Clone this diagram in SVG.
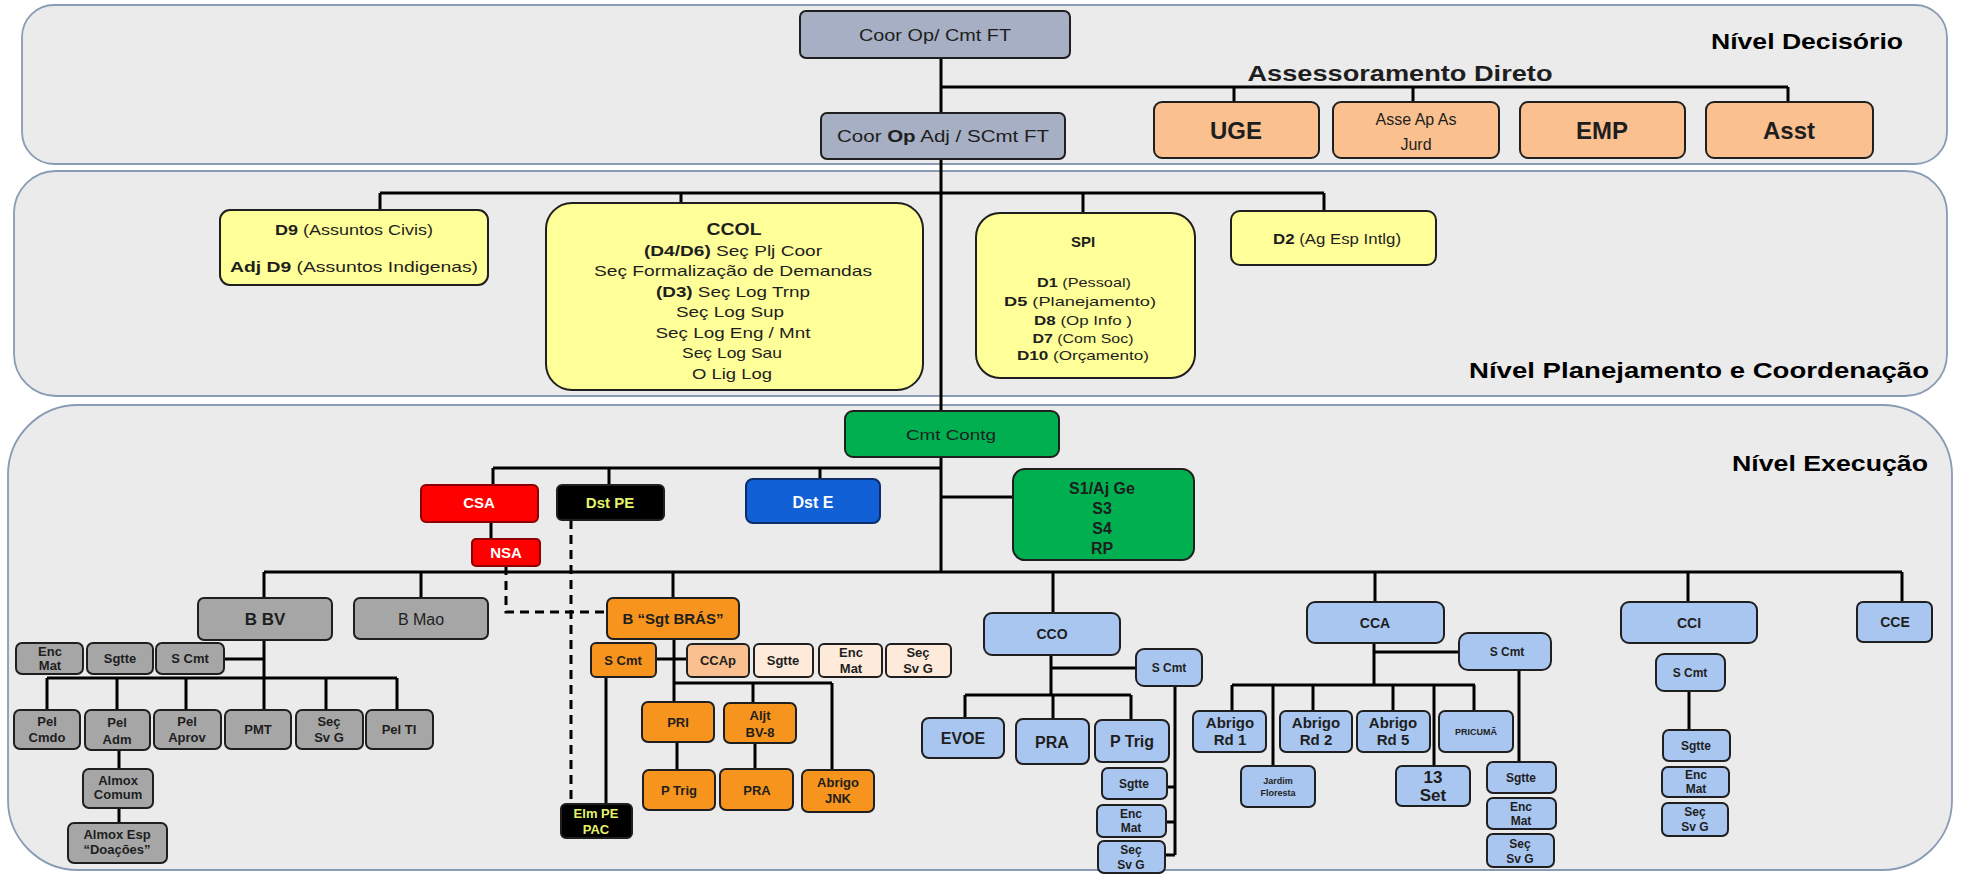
<svg xmlns="http://www.w3.org/2000/svg" width="1964" height="874" viewBox="0 0 1964 874">
<style>
text{font-family:"Liberation Sans",Arial,sans-serif;text-anchor:middle;fill:#1e1e1e}
.panel{fill:#ebebeb;stroke:#8a9bb5;stroke-width:1.8}
.ln{stroke:#000;stroke-width:3;fill:none}
.dash{stroke:#000;stroke-width:3;stroke-dasharray:9 6;fill:none}
.box{stroke:#1f1f1f;stroke-width:2}
.gb{fill:#a6afc3}
.or{fill:#fac08f}
.ye{fill:#ffff99}
.gr{fill:#00b050}
.rd{fill:#ff0000;stroke:#8b0000}
.bk{fill:#000}
.bl{fill:#1260d6;stroke:#0b2d6b}
.gy{fill:#a6a6a6}
.og{fill:#f7941d}
.lo{fill:#fac090}
.cr{fill:#fdeada}
.lb{fill:#a9c6f0}
.b{font-weight:bold}
.s{font-size:13px;font-weight:bold}
.title{font-size:22px;font-weight:bold;text-anchor:end;fill:#000}
.w{fill:#fff}
.yg{fill:#e4f46a}
</style>
<rect width="1964" height="874" fill="#fff"/>
<g id="panels">
<rect class="panel" x="22" y="5" width="1925" height="159" rx="32"/>
<rect class="panel" x="14" y="171" width="1933" height="225" rx="42"/>
<rect class="panel" x="8" y="405" width="1944" height="465" rx="70"/>
<text class="title" x="1903" y="49" textLength="192" lengthAdjust="spacingAndGlyphs">Nível Decisório</text>
<text class="title" x="1929" y="378" textLength="460" lengthAdjust="spacingAndGlyphs">Nível Planejamento e Coordenação</text>
<text class="title" x="1928" y="471" textLength="196" lengthAdjust="spacingAndGlyphs">Nível Execução</text>
<text class="b" x="1400" y="81" font-size="22" fill="#000" textLength="305" lengthAdjust="spacingAndGlyphs">Assessoramento Direto</text>
</g>
<g id="connectors">
<path class="ln" d="M941 58V113M941 160V411M941 457V572"/>
<path class="ln" d="M941 87H1788M1234 87V102M1413 87V102M1788 87V102"/>
<path class="ln" d="M380 193H1324M380 193V210M681 193V203M1083 193V213M1324 193V211"/>
<path class="ln" d="M493 468H941M493 468V485M609 468V485M820 468V479M941 497H1013M491 522V539"/>
<path class="dash" d="M506 566V612H607M571 520V804"/>
<path class="ln" d="M264 572H1902M264 572V598M421 572V598M673 572V598M1053 572V613M1375 572V602M1688 572V602M1902 572V602"/>
<path class="ln" d="M264 640V710M224 659H264M47 678H397M47 678V710M117 678V710M186 678V710M326 678V710M397 678V710M119 749V769M119 808V823"/>
<path class="ln" d="M674 639V702M656 659H687M674 683H832M753 683V703M832 683V770M677 742V770M755 743V769M606 677V804"/>
<path class="ln" d="M1051 655V695M1051 668H1136M965 695H1131M965 695V718M1053 695V719M1131 695V720M1175 686V855M1167 787H1175M1166 822H1175M1165 855H1175"/>
<path class="ln" d="M1374 643V685M1374 652H1459M1232 685H1475M1232 685V711M1273 685V766M1313 685V711M1393 685V711M1434 685V766M1474 685V711M1519 670V762"/>
<path class="ln" d="M1689 691V730"/>
</g>
<g id="coor_op"><rect class="box gb" x="800" y="11" width="270" height="47" rx="6"/><text x="935" y="41" font-size="17" textLength="152" lengthAdjust="spacingAndGlyphs">Coor Op/ Cmt FT</text></g>
<g id="coor_op_adj"><rect class="box gb" x="821" y="113" width="244" height="46" rx="6"/><text x="943" y="142" font-size="16" textLength="212" lengthAdjust="spacingAndGlyphs">Coor <tspan class="b">Op</tspan> Adj / SCmt FT</text></g>
<g id="uge"><rect class="box or" x="1154" y="102" width="165" height="56" rx="8"/><text class="b" x="1236" y="139" font-size="24">UGE</text></g>
<g id="asse"><rect class="box or" x="1333" y="102" width="166" height="56" rx="8"/><text x="1416" y="125" font-size="16">Asse Ap As</text><text x="1416" y="150" font-size="16">Jurd</text></g>
<g id="emp"><rect class="box or" x="1520" y="102" width="165" height="56" rx="8"/><text class="b" x="1602" y="139" font-size="24">EMP</text></g>
<g id="asst"><rect class="box or" x="1706" y="102" width="167" height="56" rx="8"/><text class="b" x="1789" y="139" font-size="24">Asst</text></g>
<g id="d9"><rect class="box ye" x="220" y="210" width="268" height="75" rx="10"/><text x="354" y="235" font-size="15" textLength="158" lengthAdjust="spacingAndGlyphs"><tspan class="b">D9</tspan> (Assuntos Civis)</text><text x="354" y="272" font-size="15" textLength="248" lengthAdjust="spacingAndGlyphs"><tspan class="b">Adj D9</tspan> (Assuntos Indigenas)</text></g>
<g id="ccol"><rect class="box ye" x="546" y="203" width="377" height="187" rx="26"/>
<text class="b" x="734" y="235" font-size="17" textLength="55" lengthAdjust="spacingAndGlyphs">CCOL</text>
<text x="733" y="256" font-size="15" textLength="178" lengthAdjust="spacingAndGlyphs"><tspan class="b">(D4/D6)</tspan> Seç Plj Coor</text>
<text x="733" y="276" font-size="15" textLength="278" lengthAdjust="spacingAndGlyphs">Seç Formalização de Demandas</text>
<text x="733" y="297" font-size="15" textLength="154" lengthAdjust="spacingAndGlyphs"><tspan class="b">(D3)</tspan> Seç Log Trnp</text>
<text x="730" y="317" font-size="15" textLength="108" lengthAdjust="spacingAndGlyphs">Seç Log Sup</text>
<text x="733" y="338" font-size="15" textLength="155" lengthAdjust="spacingAndGlyphs">Seç Log Eng / Mnt</text>
<text x="732" y="358" font-size="15" textLength="100" lengthAdjust="spacingAndGlyphs">Seç Log Sau</text>
<text x="732" y="379" font-size="15" textLength="80" lengthAdjust="spacingAndGlyphs">O Lig Log</text></g>
<g id="spi"><rect class="box ye" x="976" y="213" width="219" height="165" rx="24"/>
<text class="b" x="1083" y="247" font-size="15">SPI</text>
<text x="1084" y="287" font-size="13" textLength="94" lengthAdjust="spacingAndGlyphs"><tspan class="b">D1</tspan> (Pessoal)</text>
<text x="1080" y="306" font-size="13" textLength="152" lengthAdjust="spacingAndGlyphs"><tspan class="b">D5</tspan> (Planejamento)</text>
<text x="1083" y="325" font-size="13" textLength="98" lengthAdjust="spacingAndGlyphs"><tspan class="b">D8</tspan> (Op Info )</text>
<text x="1083" y="343" font-size="13" textLength="101" lengthAdjust="spacingAndGlyphs"><tspan class="b">D7</tspan> (Com Soc)</text>
<text x="1083" y="360" font-size="13" textLength="132" lengthAdjust="spacingAndGlyphs"><tspan class="b">D10</tspan> (Orçamento)</text></g>
<g id="d2"><rect class="box ye" x="1231" y="211" width="205" height="54" rx="9"/><text x="1337" y="244" font-size="15" textLength="128" lengthAdjust="spacingAndGlyphs"><tspan class="b">D2</tspan> (Ag Esp Intlg)</text></g>
<g id="cmt_contg"><rect class="box gr" x="845" y="411" width="214" height="46" rx="8"/><text x="951" y="440" font-size="15" textLength="90" lengthAdjust="spacingAndGlyphs">Cmt Contg</text></g>
<g id="csa"><rect class="box rd" x="421" y="485" width="117" height="37" rx="5"/><text class="b w" x="479" y="508" font-size="15">CSA</text></g>
<g id="dst_pe"><rect class="box bk" x="557" y="485" width="107" height="35" rx="5"/><text class="b yg" x="610" y="508" font-size="15">Dst PE</text></g>
<g id="nsa"><rect class="box rd" x="472" y="539" width="68" height="27" rx="4"/><text class="b w" x="506" y="558" font-size="15">NSA</text></g>
<g id="dst_e"><rect class="box bl" x="746" y="479" width="134" height="44" rx="7"/><text class="b w" x="813" y="508" font-size="16">Dst E</text></g>
<g id="s1"><rect class="box gr" x="1013" y="469" width="181" height="91" rx="12"/><text class="b" x="1102" y="494" font-size="16">S1/Aj Ge</text><text class="b" x="1102" y="514" font-size="16">S3</text><text class="b" x="1102" y="534" font-size="16">S4</text><text class="b" x="1102" y="554" font-size="16">RP</text></g>
<g id="b_bv"><rect class="box gy" x="198" y="598" width="134" height="42" rx="6"/><text class="b" x="265" y="625" font-size="17">B BV</text></g>
<g id="b_mao"><rect class="box gy" x="354" y="598" width="134" height="41" rx="6"/><text x="421" y="625" font-size="16">B Mao</text></g>
<g id="enc_mat_bv"><rect class="box gy" x="16" y="643" width="67" height="31" rx="6"/><text class="s" x="50" y="656" font-size="12">Enc</text><text class="s" x="50" y="670" font-size="12">Mat</text></g>
<g id="sgtte_bv"><rect class="box gy" x="87" y="643" width="66" height="31" rx="6"/><text class="s" x="120" y="663">Sgtte</text></g>
<g id="scmt_bv"><rect class="box gy" x="156" y="643" width="68" height="31" rx="6"/><text class="s" x="190" y="663">S Cmt</text></g>
<g id="pel_cmdo"><rect class="box gy" x="14" y="710" width="66" height="39" rx="6"/><text class="s" x="47" y="726">Pel</text><text class="s" x="47" y="742">Cmdo</text></g>
<g id="pel_adm"><rect class="box gy" x="85" y="710" width="65" height="40" rx="6"/><text class="s" x="117" y="727">Pel</text><text class="s" x="117" y="744">Adm</text></g>
<g id="pel_aprov"><rect class="box gy" x="154" y="710" width="67" height="39" rx="6"/><text class="s" x="187" y="726">Pel</text><text class="s" x="187" y="742">Aprov</text></g>
<g id="pmt"><rect class="box gy" x="225" y="710" width="66" height="39" rx="6"/><text class="s" x="258" y="734">PMT</text></g>
<g id="sec_bv"><rect class="box gy" x="296" y="710" width="67" height="39" rx="6"/><text class="s" x="329" y="726">Seç</text><text class="s" x="329" y="742">Sv G</text></g>
<g id="pel_ti"><rect class="box gy" x="366" y="710" width="67" height="39" rx="6"/><text class="s" x="399" y="734">Pel TI</text></g>
<g id="almox"><rect class="box gy" x="83" y="769" width="70" height="39" rx="6"/><text class="s" x="118" y="785" font-size="11">Almox</text><text class="s" x="118" y="799" font-size="11">Comum</text></g>
<g id="almox_esp"><rect class="box gy" x="68" y="823" width="99" height="40" rx="6"/><text class="s" x="117" y="839" font-size="11">Almox Esp</text><text class="s" x="117" y="854" font-size="11">“Doações”</text></g>
<g id="b_bras"><rect class="box og" x="607" y="598" width="132" height="41" rx="6"/><text class="b" x="673" y="624" font-size="15">B “Sgt BRÁS”</text></g>
<g id="scmt_bras"><rect class="box og" x="591" y="643" width="65" height="34" rx="5"/><text class="s" x="623" y="665">S Cmt</text></g>
<g id="ccap"><rect class="box lo" x="687" y="644" width="62" height="33" rx="5"/><text class="s" x="718" y="665">CCAp</text></g>
<g id="sgtte_bras"><rect class="box cr" x="754" y="644" width="59" height="33" rx="5"/><text class="s" x="783" y="665">Sgtte</text></g>
<g id="enc_bras"><rect class="box cr" x="819" y="644" width="63" height="33" rx="5"/><text class="s" x="851" y="657">Enc</text><text class="s" x="851" y="673">Mat</text></g>
<g id="sec_bras"><rect class="box cr" x="886" y="644" width="65" height="33" rx="5"/><text class="s" x="918" y="657">Seç</text><text class="s" x="918" y="673">Sv G</text></g>
<g id="pri"><rect class="box og" x="642" y="702" width="72" height="40" rx="6"/><text class="s" x="678" y="727">PRI</text></g>
<g id="aljt"><rect class="box og" x="724" y="703" width="72" height="40" rx="6"/><text class="s" x="760" y="720">Aljt</text><text class="s" x="760" y="737">BV-8</text></g>
<g id="ptrig_bras"><rect class="box og" x="643" y="770" width="72" height="40" rx="6"/><text class="s" x="679" y="795">P Trig</text></g>
<g id="pra_bras"><rect class="box og" x="720" y="769" width="73" height="41" rx="6"/><text class="s" x="757" y="795">PRA</text></g>
<g id="abrigo_jnk"><rect class="box og" x="802" y="770" width="72" height="42" rx="6"/><text class="s" x="838" y="787">Abrigo</text><text class="s" x="838" y="803">JNK</text></g>
<g id="elm_pe"><rect class="box bk" x="561" y="804" width="71" height="34" rx="5"/><text class="s yg" x="596" y="818">Elm PE</text><text class="s yg" x="596" y="834">PAC</text></g>
<g id="cco"><rect class="box lb" x="984" y="613" width="136" height="42" rx="8"/><text class="b" x="1052" y="639" font-size="14">CCO</text></g>
<g id="scmt_cco"><rect class="box lb" x="1136" y="649" width="66" height="37" rx="8"/><text class="b" x="1169" y="672" font-size="12">S Cmt</text></g>
<g id="evoe"><rect class="box lb" x="922" y="718" width="82" height="40" rx="7"/><text class="b" x="963" y="744" font-size="16">EVOE</text></g>
<g id="pra_cco"><rect class="box lb" x="1016" y="719" width="73" height="45" rx="7"/><text class="b" x="1052" y="748" font-size="16">PRA</text></g>
<g id="ptrig_cco"><rect class="box lb" x="1095" y="720" width="74" height="42" rx="7"/><text class="b" x="1132" y="747" font-size="16">P Trig</text></g>
<g id="sgtte_cco"><rect class="box lb" x="1102" y="768" width="65" height="31" rx="6"/><text class="b" x="1134" y="788" font-size="12">Sgtte</text></g>
<g id="enc_cco"><rect class="box lb" x="1097" y="805" width="69" height="32" rx="6"/><text class="b" x="1131" y="818" font-size="12">Enc</text><text class="b" x="1131" y="832" font-size="12">Mat</text></g>
<g id="sec_cco"><rect class="box lb" x="1098" y="841" width="67" height="32" rx="6"/><text class="b" x="1131" y="854" font-size="12">Seç</text><text class="b" x="1131" y="869" font-size="12">Sv G</text></g>
<g id="cca"><rect class="box lb" x="1307" y="602" width="137" height="41" rx="8"/><text class="b" x="1375" y="628" font-size="14">CCA</text></g>
<g id="scmt_cca"><rect class="box lb" x="1459" y="633" width="92" height="37" rx="9"/><text class="b" x="1507" y="656" font-size="12">S Cmt</text></g>
<g id="abrigo_rd1"><rect class="box lb" x="1193" y="711" width="73" height="41" rx="6"/><text class="b" x="1230" y="728" font-size="15">Abrigo</text><text class="b" x="1230" y="745" font-size="15">Rd 1</text></g>
<g id="jardim"><rect class="box lb" x="1241" y="766" width="74" height="41" rx="6"/><text class="b" x="1278" y="784" font-size="9">Jardim</text><text class="b" x="1278" y="796" font-size="9">Floresta</text></g>
<g id="abrigo_rd2"><rect class="box lb" x="1280" y="711" width="72" height="41" rx="6"/><text class="b" x="1316" y="728" font-size="15">Abrigo</text><text class="b" x="1316" y="745" font-size="15">Rd 2</text></g>
<g id="abrigo_rd5"><rect class="box lb" x="1357" y="711" width="73" height="41" rx="6"/><text class="b" x="1393" y="728" font-size="15">Abrigo</text><text class="b" x="1393" y="745" font-size="15">Rd 5</text></g>
<g id="pricuma"><rect class="box lb" x="1439" y="711" width="74" height="41" rx="6"/><text class="b" x="1476" y="735" font-size="9">PRICUMÃ</text></g>
<g id="set13"><rect class="box lb" x="1396" y="766" width="74" height="40" rx="6"/><text class="b" x="1433" y="783" font-size="17">13</text><text class="b" x="1433" y="801" font-size="17">Set</text></g>
<g id="sgtte_cca"><rect class="box lb" x="1487" y="762" width="69" height="31" rx="6"/><text class="b" x="1521" y="782" font-size="12">Sgtte</text></g>
<g id="enc_cca"><rect class="box lb" x="1487" y="798" width="69" height="31" rx="6"/><text class="b" x="1521" y="811" font-size="12">Enc</text><text class="b" x="1521" y="825" font-size="12">Mat</text></g>
<g id="sec_cca"><rect class="box lb" x="1487" y="834" width="67" height="33" rx="6"/><text class="b" x="1520" y="848" font-size="12">Seç</text><text class="b" x="1520" y="863" font-size="12">Sv G</text></g>
<g id="cci"><rect class="box lb" x="1621" y="602" width="136" height="41" rx="8"/><text class="b" x="1689" y="628" font-size="14">CCI</text></g>
<g id="scmt_cci"><rect class="box lb" x="1656" y="654" width="69" height="37" rx="8"/><text class="b" x="1690" y="677" font-size="12">S Cmt</text></g>
<g id="sgtte_cci"><rect class="box lb" x="1663" y="730" width="67" height="31" rx="6"/><text class="b" x="1696" y="750" font-size="12">Sgtte</text></g>
<g id="enc_cci"><rect class="box lb" x="1662" y="767" width="67" height="30" rx="6"/><text class="b" x="1696" y="779" font-size="12">Enc</text><text class="b" x="1696" y="793" font-size="12">Mat</text></g>
<g id="sec_cci"><rect class="box lb" x="1662" y="803" width="66" height="33" rx="6"/><text class="b" x="1695" y="816" font-size="12">Seç</text><text class="b" x="1695" y="831" font-size="12">Sv G</text></g>
<g id="cce"><rect class="box lb" x="1857" y="602" width="75" height="40" rx="6"/><text class="b" x="1895" y="627" font-size="14">CCE</text></g>
</svg>
